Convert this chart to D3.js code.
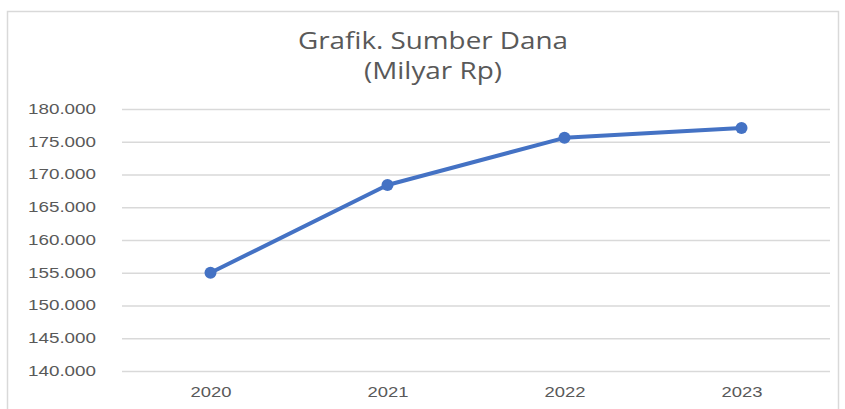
<!DOCTYPE html>
<html>
<head>
<meta charset="utf-8">
<script src="https://cdn.jsdelivr.net/npm/d3@7"></script>
<style>
  body { margin: 0; background: #fff; }
  svg { display: block; font-family: "Open Sans", "Noto Sans", sans-serif; }
</style>
</head>
<body>
<svg id="chart" width="845" height="409"></svg>
<script>
const years = ["2020", "2021", "2022", "2023"]
const sumberDana = [155000, 168400, 175600, 177100]
const yTicks = [140000, 145000, 150000, 155000, 160000, 165000, 170000, 175000, 180000]
const titleLines = ["Grafik. Sumber Dana", "(Milyar Rp)"]

const svg = d3.select("#chart")
const width = 845, height = 409
const margin = { top: 109, right: 15, bottom: 38, left: 122 }
const plotRight = width - margin.right

// chart frame
svg.append("rect")
  .attr("x", 7.5).attr("y", 11.5)
  .attr("width", 831).attr("height", 410)
  .attr("fill", "#fff")
  .attr("stroke", "#d9d9d9")
  .attr("stroke-width", 1.5)

const idFormat = d3.formatLocale({ decimal: ",", thousands: ".", grouping: [3], currency: ["Rp", ""] })
const fmt = idFormat.format(",.0f")

const x = d3.scalePoint()
  .domain(years)
  .range([margin.left, plotRight])
  .padding(0.5)

const y = d3.scaleLinear()
  .domain([140000, 180000])
  .range([371, margin.top])

// the source picture is stretched sideways, so text is widened to match
const yAxis = d3.axisLeft(y)
  .tickValues(yTicks)
  .tickSize(-(plotRight - margin.left))
  .tickPadding(26)
  .tickFormat(fmt)

svg.append("g")
  .attr("transform", `translate(${margin.left},0)`)
  .call(yAxis)
  .call(g => g.select(".domain").remove())
  .call(g => g.selectAll(".tick line").attr("stroke", "#d9d9d9").attr("stroke-width", 1.5))
  .call(g => g.selectAll(".tick text")
    .attr("fill", "#595959")
    .attr("textLength", 68)
    .attr("lengthAdjust", "spacingAndGlyphs")
    .style("font-size", "14px"))

const xAxis = d3.axisBottom(x).tickSize(0).tickPadding(16)
svg.append("g")
  .attr("transform", `translate(0,${y(140000)})`)
  .call(xAxis)
  .call(g => g.select(".domain").remove())
  .call(g => g.selectAll(".tick text")
    .attr("fill", "#595959")
    .attr("textLength", 41)
    .attr("lengthAdjust", "spacingAndGlyphs")
    .style("font-size", "14px"))

// title
const titleWidths = [270, 138]
svg.append("g").selectAll("text")
  .data(titleLines)
  .enter()
  .append("text")
  .attr("x", 433)
  .attr("y", (d, i) => 49 + i * 30)
  .attr("text-anchor", "middle")
  .attr("fill", "#595959")
  .attr("textLength", (d, i) => titleWidths[i])
  .attr("lengthAdjust", "spacingAndGlyphs")
  .style("font-size", "24px")
  .text(d => d)

// series
const line = d3.line()
  .x((d, i) => x(years[i]))
  .y(d => y(d))

svg.append("path")
  .datum(sumberDana)
  .attr("fill", "none")
  .attr("stroke", "#4472c4")
  .attr("stroke-width", 4)
  .attr("stroke-linejoin", "round")
  .attr("stroke-linecap", "round")
  .attr("d", line)

svg.append("g").selectAll("circle")
  .data(sumberDana)
  .enter()
  .append("circle")
  .attr("cx", (d, i) => x(years[i]))
  .attr("cy", d => y(d))
  .attr("r", 6)
  .attr("fill", "#4472c4")
</script>
</body>
</html>
